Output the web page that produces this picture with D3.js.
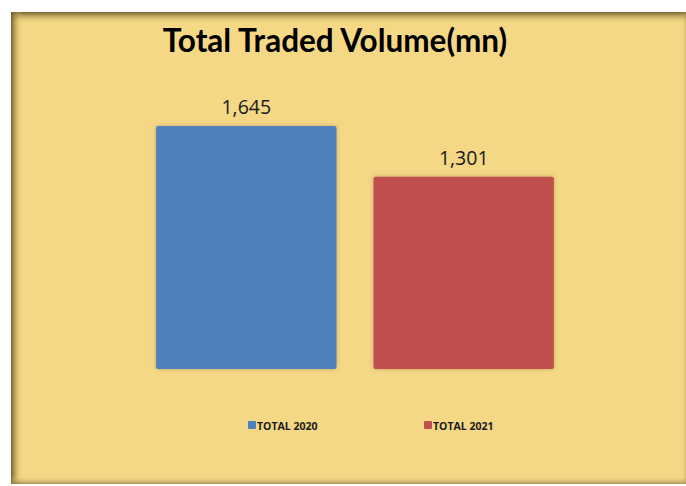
<!DOCTYPE html>
<html>
<head>
<meta charset="utf-8">
<script src="https://cdn.jsdelivr.net/npm/d3@7"></script>
<style>
  body { margin: 0; background: #fff; }
  svg { display: block; }
</style>
</head>
<body>
<script>
var series = ["TOTAL 2020", "TOTAL 2021"];
var values = [1645, 1301];
var colors = ["#4F81BD", "#C0504D"];
var chartTitle = "Total Traded Volume(mn)";

const w = 686, h = 486;
const panel = { x: 11, y: 12, w: 675, h: 472 };

var svg = d3.select("body").append("svg")
  .attr("width", w)
  .attr("height", h);

var defs = svg.append("defs");

// edge shading of the panel
function grad(id, x1, y1, x2, y2, stops) {
  var g = defs.append("linearGradient").attr("id", id)
    .attr("x1", x1).attr("y1", y1).attr("x2", x2).attr("y2", y2);
  stops.forEach(function (s) {
    g.append("stop").attr("offset", s[0]).attr("stop-color", s[1]).attr("stop-opacity", s[2]);
  });
}
grad("shTop", 0, 0, 0, 1, [[0, "#6b5a2a", 0.95], [0.5, "#a8904a", 0.4], [1, "#f4d886", 0]]);
grad("shLeft", 0, 0, 1, 0, [[0, "#6b5a2a", 0.95], [0.5, "#a8904a", 0.4], [1, "#f4d886", 0]]);
grad("shBottom", 0, 1, 0, 0, [[0, "#8a7540", 0.7], [1, "#f4d886", 0]]);
grad("shRight", 1, 0, 0, 0, [[0, "#a8904a", 0.35], [1, "#f4d886", 0]]);

var f = defs.append("filter").attr("id", "barShadow")
  .attr("x", "-10%").attr("y", "-10%").attr("width", "120%").attr("height", "120%");
f.append("feDropShadow").attr("dx", 0).attr("dy", 0).attr("stdDeviation", 2)
  .attr("flood-color", "#7a6530").attr("flood-opacity", 0.45);

svg.append("rect")
  .attr("x", panel.x).attr("y", panel.y)
  .attr("width", panel.w).attr("height", panel.h)
  .attr("fill", "#F4D886");

svg.append("rect").attr("x", panel.x).attr("y", panel.y)
  .attr("width", panel.w).attr("height", 12).attr("fill", "url(#shTop)");
svg.append("rect").attr("x", panel.x).attr("y", panel.y)
  .attr("width", 12).attr("height", panel.h).attr("fill", "url(#shLeft)");
svg.append("rect").attr("x", panel.x).attr("y", panel.y + panel.h - 8)
  .attr("width", panel.w).attr("height", 8).attr("fill", "url(#shBottom)");
svg.append("rect").attr("x", panel.x + panel.w - 6).attr("y", panel.y)
  .attr("width", 6).attr("height", panel.h).attr("fill", "url(#shRight)");

// title
svg.append("text")
  .attr("x", 335)
  .attr("y", 52)
  .attr("text-anchor", "middle")
  .attr("font-family", "Lato, 'Open Sans', sans-serif")
  .attr("font-weight", "bold")
  .attr("font-size", 31.5)
  .attr("fill", "#000")
  .text(chartTitle);

// scales
const xScale = d3.scaleBand()
  .domain(series)
  .range([112.6, 597.4])
  .paddingInner(0.1705)
  .paddingOuter(0.2);

const yScale = d3.scaleLinear()
  .domain([0, 1800])
  .range([369, 103]);

var bars = svg.selectAll(".bar")
  .data(series)
  .enter()
  .append("rect")
  .attr("class", "bar")
  .attr("x", (d) => xScale(d))
  .attr("y", (d, i) => yScale(values[i]))
  .attr("width", xScale.bandwidth())
  .attr("height", (d, i) => yScale(0) - yScale(values[i]))
  .attr("rx", 2)
  .attr("fill", (d, i) => colors[i])
  .attr("filter", "url(#barShadow)");

svg.selectAll(".val")
  .data(series)
  .enter()
  .append("text")
  .attr("class", "val")
  .attr("x", (d) => xScale(d) + xScale.bandwidth() / 2)
  .attr("y", (d, i) => yScale(values[i]) - 12)
  .attr("text-anchor", "middle")
  .attr("font-family", "'Open Sans', sans-serif")
  .attr("font-size", 19.5)
  .attr("fill", "#1a1a1a")
  .text((d, i) => d3.format(",")(values[i]));

// legend
var legendX = [248, 424];
var lg = svg.selectAll(".lg")
  .data(series)
  .enter()
  .append("g")
  .attr("class", "lg")
  .attr("transform", (d, i) => "translate(" + legendX[i] + ",421)");

lg.append("rect")
  .attr("width", 8).attr("height", 8).attr("rx", 1)
  .attr("fill", (d, i) => colors[i]);

lg.append("text")
  .attr("x", 9)
  .attr("y", 8.5)
  .attr("font-family", "'Open Sans', sans-serif")
  .attr("font-weight", "bold")
  .attr("font-size", 10.5)
  .attr("fill", "#1a1a1a")
  .text((d) => d);
</script>
</body>
</html>
